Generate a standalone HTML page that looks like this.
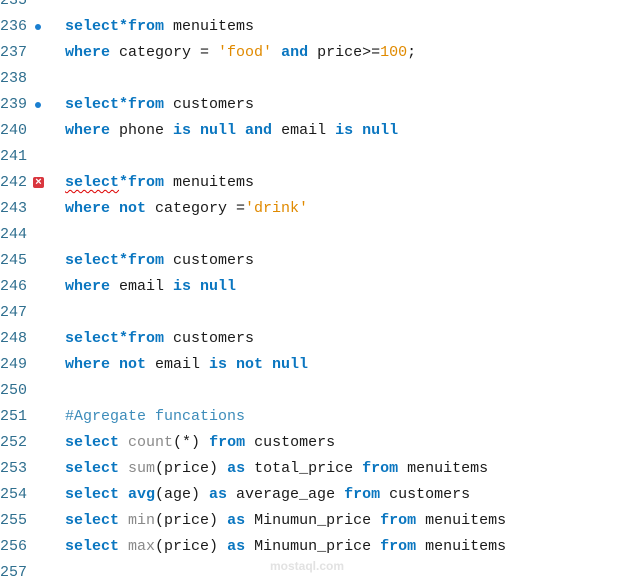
<!DOCTYPE html>
<html><head><meta charset="utf-8"><style>
body{margin:0;width:621px;height:585px;background:#fff;overflow:hidden;position:relative;font-family:"Liberation Mono",monospace;font-size:15px;color:#1a1a1a}
#w{position:absolute;left:0;top:2px;width:621px;height:585px}
.l{position:absolute;left:0;height:26px;line-height:26px;white-space:pre}
.n{position:absolute;left:0;width:30px;color:#2f6f8f;font-family:"Liberation Mono",monospace}
.c{position:absolute;left:65px}
.k{color:#0a76c0;font-weight:bold}
.s{color:#e08a00}
.f{color:#8a8a8a}
.m{color:#3d8cba}
.dot{position:absolute;left:35px;top:10px;width:6px;height:6px;border-radius:50%;background:#1a7fd0}
.err{position:absolute;left:33px;top:7px;width:11px;height:11px;background:#d9363e;border-radius:2px;color:#fff;font-size:11px;line-height:11px;text-align:center;font-family:"Liberation Sans",sans-serif;font-weight:bold}
.sq{text-decoration:underline wavy #d00;text-decoration-thickness:1px;text-underline-offset:3px}
</style></head><body><div id="w">
<div class="l" style="top:-14px"><span class="n">235</span></div>
<div class="l" style="top:12px"><span class="n">236</span><span class="dot"></span><span class="c"><span class="k">select*from</span> menuitems</span></div>
<div class="l" style="top:38px"><span class="n">237</span><span class="c"><span class="k">where</span> category = <span class="s">'food'</span> <span class="k">and</span> price&gt;=<span class="s">100</span>;</span></div>
<div class="l" style="top:64px"><span class="n">238</span></div>
<div class="l" style="top:90px"><span class="n">239</span><span class="dot"></span><span class="c"><span class="k">select*from</span> customers</span></div>
<div class="l" style="top:116px"><span class="n">240</span><span class="c"><span class="k">where</span> phone <span class="k">is null and</span> email <span class="k">is null</span></span></div>
<div class="l" style="top:142px"><span class="n">241</span></div>
<div class="l" style="top:168px"><span class="n">242</span><span class="err">×</span><span class="c"><span class="k sq">select</span><span class="k">*from</span> menuitems</span></div>
<div class="l" style="top:194px"><span class="n">243</span><span class="c"><span class="k">where not</span> category =<span class="s">'drink'</span></span></div>
<div class="l" style="top:220px"><span class="n">244</span></div>
<div class="l" style="top:246px"><span class="n">245</span><span class="c"><span class="k">select*from</span> customers</span></div>
<div class="l" style="top:272px"><span class="n">246</span><span class="c"><span class="k">where</span> email <span class="k">is null</span></span></div>
<div class="l" style="top:298px"><span class="n">247</span></div>
<div class="l" style="top:324px"><span class="n">248</span><span class="c"><span class="k">select*from</span> customers</span></div>
<div class="l" style="top:350px"><span class="n">249</span><span class="c"><span class="k">where not</span> email <span class="k">is not null</span></span></div>
<div class="l" style="top:376px"><span class="n">250</span></div>
<div class="l" style="top:402px"><span class="n">251</span><span class="c"><span class="m">#Agregate funcations</span></span></div>
<div class="l" style="top:428px"><span class="n">252</span><span class="c"><span class="k">select</span> <span class="f">count</span>(*) <span class="k">from</span> customers</span></div>
<div class="l" style="top:454px"><span class="n">253</span><span class="c"><span class="k">select</span> <span class="f">sum</span>(price) <span class="k">as</span> total_price <span class="k">from</span> menuitems</span></div>
<div class="l" style="top:480px"><span class="n">254</span><span class="c"><span class="k">select avg</span>(age) <span class="k">as</span> average_age <span class="k">from</span> customers</span></div>
<div class="l" style="top:506px"><span class="n">255</span><span class="c"><span class="k">select</span> <span class="f">min</span>(price) <span class="k">as</span> Minumun_price <span class="k">from</span> menuitems</span></div>
<div class="l" style="top:532px"><span class="n">256</span><span class="c"><span class="k">select</span> <span class="f">max</span>(price) <span class="k">as</span> Minumun_price <span class="k">from</span> menuitems</span></div>
<div class="l" style="top:558px"><span class="n">257</span></div>
<div style="position:absolute;left:270px;top:557px;font-family:'Liberation Sans',sans-serif;font-size:12px;font-weight:bold;color:#e2e2e2">mostaql.com</div>
</div></body></html>
